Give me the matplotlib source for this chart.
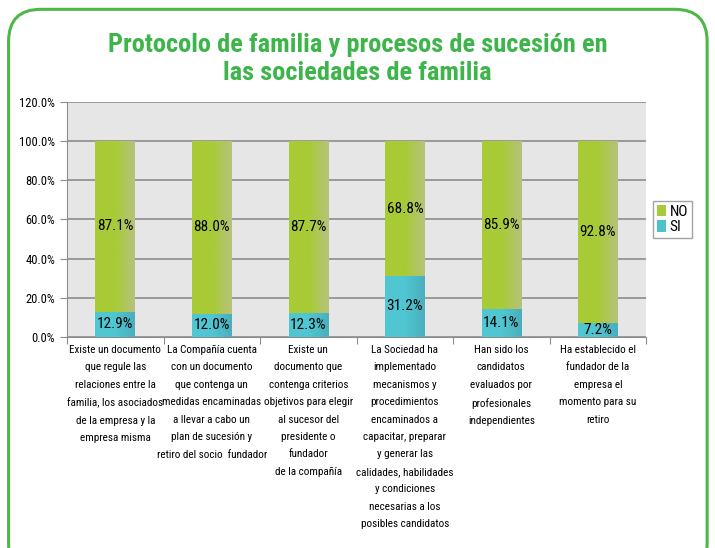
import matplotlib.pyplot as plt
from matplotlib.patches import FancyBboxPatch
from matplotlib.colors import LinearSegmentedColormap
import numpy as np

plt.rcParams['font.family'] = ['Roboto Condensed', 'Liberation Sans Narrow', 'Liberation Sans', 'DejaVu Sans']

categories = [
    "Existe un documento\nque regule las\nrelaciones entre la\nfamilia, los asociados\nde la empresa y la\nempresa misma",
    "La Compañía cuenta\ncon un documento\nque contenga un\nmedidas encaminadas\na llevar a cabo un\nplan de sucesión y\nretiro del socio  fundador",
    "Existe un\ndocumento que\ncontenga criterios\nobjetivos para elegir\nal sucesor del\npresidente o\nfundador\nde la compañía",
    "La Sociedad ha\nimplementado\nmecanismos y\nprocedimientos\nencaminados a\ncapacitar, preparar\ny generar las\ncalidades, habilidades\ny condiciones\nnecesarias a los\nposibles candidatos",
    "Han sido los\ncandidatos\nevaluados por\nprofesionales\nindependientes",
    "Ha establecido el\nfundador de la\nempresa el\nmomento para su\nretiro",
]
si = [12.9, 12.0, 12.3, 31.2, 14.1, 7.2]
no = [87.1, 88.0, 87.7, 68.8, 85.9, 92.8]

fig = plt.figure(figsize=(7.15, 5.48), dpi=100)

# rounded green frame behind everything
frame = FancyBboxPatch((0.012, -0.05), 0.977, 1.033, transform=fig.transFigure,
                       boxstyle="round,pad=0,rounding_size=0.045",
                       facecolor='none', edgecolor='#4DB748', linewidth=2.2,
                       mutation_aspect=715 / 548, zorder=-5)
fig.patches.append(frame)

fig.text(0.5, 0.892, "Protocolo de familia y procesos de sucesión en\nlas sociedades de familia",
         ha='center', va='center', fontsize=19, fontweight='bold', color='#3DB54A',
         linespacing=1.22)

ax = fig.add_axes([0.0937, 0.385, 0.81, 0.429])
ax.set_facecolor('#E6E6E6')
x = np.arange(len(categories))
w = 0.41
b1 = ax.bar(x, si, w, color='#4DC1CC', label='SI', zorder=3)
b2 = ax.bar(x, no, w, bottom=si, color='#A9C93C', label='NO', zorder=3)

# horizontal shading inside each bar
grad = np.linspace(0, 1, 64).reshape(1, -1)
for bars, c0, c1 in [(b1, '#4FC6D1', '#4AAEBE'), (b2, '#A8CB36', '#B6C27C')]:
    cmap = LinearSegmentedColormap.from_list('shade', [c0, c0, c1])
    for p in bars:
        x0, y0 = p.get_x(), p.get_y()
        im = ax.imshow(grad, cmap=cmap, aspect='auto', zorder=3.5,
                       extent=(x0, x0 + p.get_width(), y0, y0 + p.get_height()))
        im.set_clip_path(p)

for i in range(len(x)):
    ax.text(x[i], si[i] / 2, f"{si[i]:.1f}%", ha='center', va='center', fontsize=11, zorder=4)
    ax.text(x[i], si[i] + no[i] / 2, f"{no[i]:.1f}%", ha='center', va='center', fontsize=11, zorder=4)

ax.set_xlim(-0.5, len(x) - 0.5)
ax.set_ylim(0, 120)
ax.set_yticks(np.arange(0, 121, 20))
ax.set_yticklabels([f"{v:.1f}%" for v in np.arange(0, 121, 20)], fontsize=9)
ax.yaxis.grid(True, color='#8C8C8C', linewidth=1.2, zorder=0)
ax.set_axisbelow(True)

ax.set_xticks(np.arange(-0.5, len(x), 1))
ax.set_xticklabels([])
ax.tick_params(axis='x', length=5, color='#8C8C8C')
ax.tick_params(axis='y', length=5, color='#8C8C8C')
for i, c in enumerate(categories):
    ax.text(x[i], -4.0, c, ha='center', va='top', fontsize=8.0, linespacing=1.93)

for s in ['top', 'right']:
    ax.spines[s].set_visible(False)
ax.spines['left'].set_color('#8C8C8C')
ax.spines['bottom'].set_color('#8C8C8C')

handles = [b2, b1]
leg = ax.legend(handles, ['NO', 'SI'], loc='center left', bbox_to_anchor=(1.01, 0.5),
                fontsize=11, frameon=True, fancybox=False, edgecolor='#8C8C8C',
                handlelength=0.6, handleheight=0.8, handletextpad=0.2,
                borderpad=0.25, labelspacing=0.1, borderaxespad=0.1)
leg.get_frame().set_linewidth(1.0)

fig.savefig('out.png', dpi=100)
